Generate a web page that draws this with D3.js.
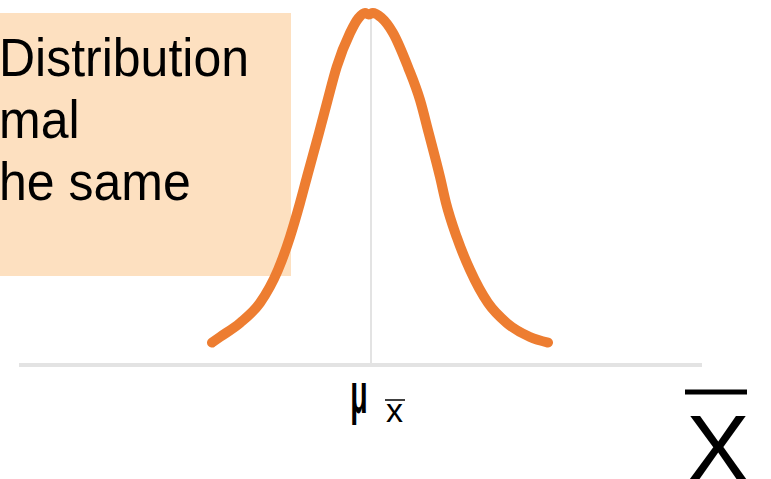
<!DOCTYPE html>
<html>
<head>
<meta charset="utf-8">
<script src="https://cdn.jsdelivr.net/npm/d3@7"></script>
<style>
  html, body { margin: 0; padding: 0; background: #fff; }
  svg { display: block; }
  text { font-family: "Liberation Sans", Arial, sans-serif; fill: #000; }
</style>
</head>
<body>
<svg id="chart" width="771" height="479"></svg>
<script>
// text box lines (left part is cut off in the original slide)
var boxLines = ["Distribution", "mal", "he same"];

// sampling distribution curve (z in sigma units, relative density)
var curveZ = [-2.65, -2.517, -2.183, -1.85, -1.55, -1.35, -1.183, -1.067, -0.867, -0.722,
  -0.572, -0.35, -0.21, -0.1, -0.04, 0.03, 0.17, 0.367, 0.617, 0.817,
  0.962, 1.15, 1.25, 1.428, 1.65, 1.95, 2.262, 2.65, 2.95];
var curveDensity = [0.061, 0.077, 0.117, 0.174, 0.268, 0.362, 0.459, 0.533, 0.658, 0.752,
  0.846, 0.943, 0.985, 1.0, 0.996, 1.0, 0.987, 0.943, 0.846, 0.752,
  0.658, 0.533, 0.459, 0.362, 0.268, 0.174, 0.117, 0.077, 0.061];

var axisExtent = [-5.867, 5.517];
var meanValue = 0;
var meanSymbol = "\u03bc";
var subSymbol = "x";
var axisSymbol = "X";

(function () {
  "use strict";
  var svg = d3.select("#chart");
  var x = d3.scaleLinear().domain([-6, 6]).range([11, 731]);
  var y = d3.scaleLinear().domain([0, 1]).range([364, 13]);
  var pts = curveZ.map(function (z, i) { return [z, curveDensity[i]]; });

  // peach text box
  svg.append("rect")
    .attr("x", 0).attr("y", 13).attr("width", 291).attr("height", 263)
    .attr("fill", "#FDE0C0");
  svg.selectAll("text.box").data(boxLines).enter().append("text")
    .attr("class", "box")
    .attr("transform", function (d, i) { return "translate(-1," + (76 + i * 62) + ") scale(1,1.08)"; })
    .attr("font-size", 50)
    .text(function (d) { return d; });

  // baseline + mean line
  svg.append("line")
    .attr("x1", x(axisExtent[0])).attr("x2", x(axisExtent[1]))
    .attr("y1", y(0) + 1).attr("y2", y(0) + 1)
    .attr("stroke", "#E3E3E3").attr("stroke-width", 4);
  svg.append("line")
    .attr("x1", x(meanValue)).attr("x2", x(meanValue))
    .attr("y1", y(1)).attr("y2", y(0))
    .attr("stroke", "#E3E3E3").attr("stroke-width", 2);

  // curve
  svg.append("path")
    .datum(pts)
    .attr("d", d3.line()
      .x(function (d) { return x(d[0]); })
      .y(function (d) { return y(d[1]); })
      .curve(d3.curveMonotoneX))
    .attr("fill", "none")
    .attr("stroke", "#ED7D31")
    .attr("stroke-width", 10)
    .attr("stroke-linecap", "round")
    .attr("stroke-linejoin", "round");

  // mu with x-bar subscript
  var mx = x(meanValue);
  svg.append("text")
    .attr("transform", "translate(" + (mx - 12) + ",413) scale(0.5,1)")
    .attr("text-anchor", "middle")
    .attr("font-size", 57).attr("font-weight", "bold")
    .text(meanSymbol);
  svg.append("text")
    .attr("x", mx + 23.5).attr("y", 421.7)
    .attr("text-anchor", "middle")
    .attr("font-size", 34)
    .text(subSymbol);
  svg.append("line")
    .attr("x1", mx + 14).attr("x2", mx + 34)
    .attr("y1", 400).attr("y2", 400)
    .attr("stroke", "#000").attr("stroke-width", 1.5);

  // X-bar axis label (bottom cut off at the edge, as in the slide)
  svg.append("text")
    .attr("x", 718).attr("y", 481)
    .attr("text-anchor", "middle")
    .attr("font-size", 95)
    .text(axisSymbol);
  svg.append("line")
    .attr("x1", 685).attr("x2", 747)
    .attr("y1", 392).attr("y2", 392)
    .attr("stroke", "#000").attr("stroke-width", 5);
})();
</script>
</body>
</html>
